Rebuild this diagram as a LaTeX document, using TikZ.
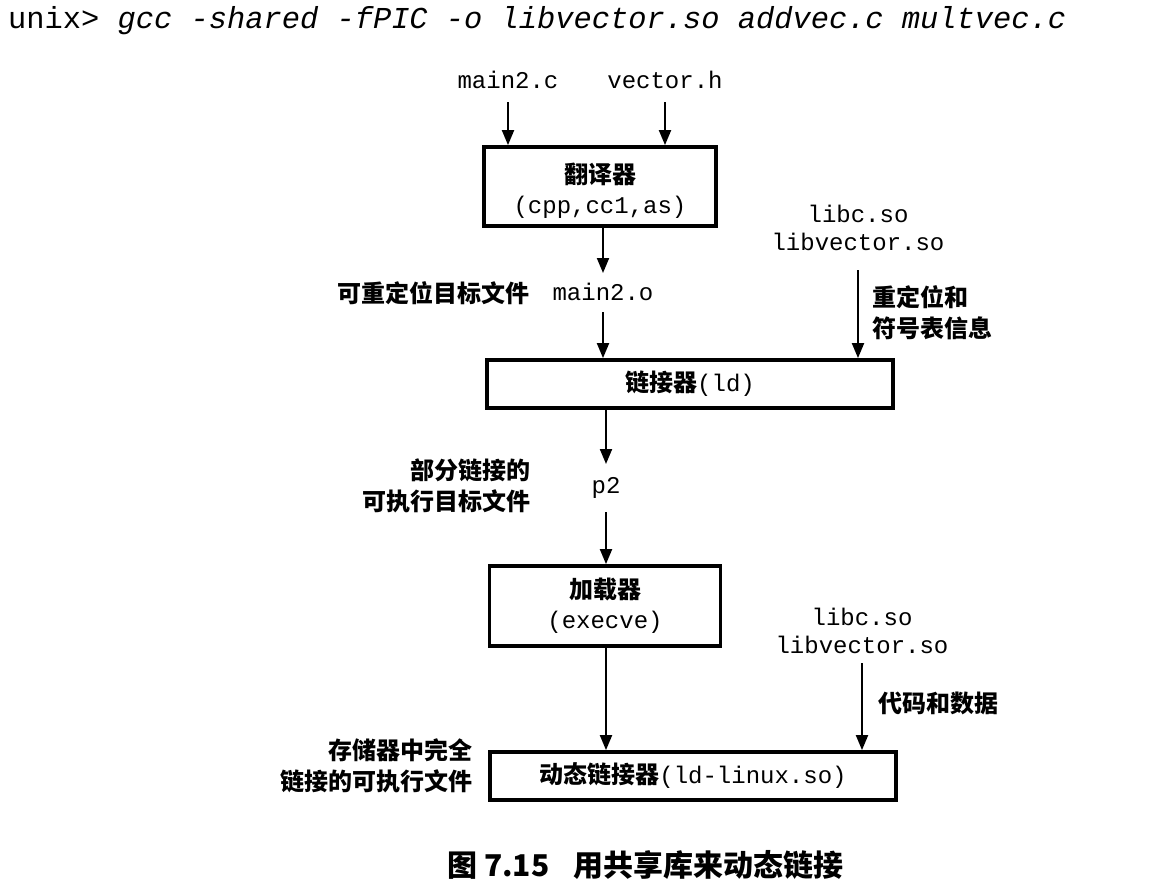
\documentclass[tikz,border=0pt]{standalone}
\usepackage{fontspec}
\setmonofont{Liberation Mono}
\newfontfamily\cjk{Noto Sans CJK SC}
\usetikzlibrary{arrows.meta}
\begin{document}
\begin{tikzpicture}[x=1pt,y=-1pt,
  box/.style={draw,line width=3.8pt,inner sep=0pt,align=center,font=\fontsize{24}{30}\selectfont},
  arr/.style={line width=2pt,-{Triangle[length=15pt,width=12pt]}},
  mono/.style={font=\fontsize{24}{28}\selectfont\ttfamily,inner sep=0pt,anchor=base},
  zh/.style={font=\fontsize{24}{31}\selectfont\cjk\bfseries,inner sep=0pt,anchor=base},
]
\useasboundingbox[fill=white] (0,0) rectangle (1156,886);

% command line
\node[font=\fontsize{30.4}{34}\selectfont\ttfamily,inner sep=0pt,anchor=base west] (cmd) at (8,28)
  {unix> \textit{gcc -shared -fPIC -o libvector.so addvec.c multvec.c}};

% inputs
\node[mono] (m2c) at (508,88) {main2.c};
\node[mono] (vh) at (665,88) {vector.h};

% translator
\node[box,minimum width=232pt,minimum height=79pt] (trans) at (600,186.5)
  {\rule{0pt}{29pt}{\cjk\bfseries 翻译器}\\{\ttfamily (cpp,cc1,as)}};

\node[mono] (m2o) at (603,300) {main2.o};
\node[zh,anchor=base east] (reloc) at (530,302) {可重定位目标文件};

\node[mono,align=center] (libs1) at (858,250) {libc.so\\libvector.so};
\node[zh,anchor=base west,align=left] (symt) at (872,337) {重定位和\\符号表信息};

% linker
\node[box,minimum width=406pt,minimum height=48pt] (ld) at (690,384)
  {{\cjk\bfseries 链接器}{\ttfamily (ld)}};

\node[mono] (p2) at (606,493) {p2};
\node[zh,anchor=base east,align=right] (part) at (531,510) {部分链接的\\可执行目标文件};

% loader
\node[box,minimum width=231pt,minimum height=80pt] (load) at (605,606)
  {{\cjk\bfseries 加载器}\\{\ttfamily (execve)}};

\node[mono,align=center] (libs2) at (862,653) {libc.so\\libvector.so};
\node[zh,anchor=base west] (code) at (878,712) {代码和数据};

% dynamic linker
\node[box,minimum width=406pt,minimum height=48pt] (dyn) at (693,776)
  {{\cjk\bfseries 动态链接器}{\ttfamily (ld-linux.so)}};
\node[zh,anchor=base east,align=right] (full) at (473,790) {存储器中完全\\链接的可执行文件};

% caption
\node[font=\fontsize{30}{34}\selectfont\cjk\bfseries,inner sep=0pt,anchor=base west] (cap) at (447,876)
  {图 7.15\hspace{24pt}用共享库来动态链接};

% arrows
\draw[arr] ([yshift=-14pt]m2c.base) -- (m2c.base |- trans.north);
\draw[arr] ([yshift=-14pt]vh.base) -- (vh.base |- trans.north);
\draw[arr] (trans.south -| m2o.base) -- ([yshift=27pt]m2o.base);
\draw[arr] ([yshift=-12pt]m2o.base) -- (m2o.base |- ld.north);
\draw[arr] ([yshift=-20pt]libs1.base) -- (libs1.base |- ld.north);
\draw[arr] (ld.south -| p2.base) -- ([yshift=29pt]p2.base);
\draw[arr] ([yshift=-19pt]p2.base) -- (p2.base |- load.north);
\draw[arr] (load.south -| p2.base) -- (p2.base |- dyn.north);
\draw[arr] ([yshift=-10pt]libs2.base) -- (libs2.base |- dyn.north);
\end{tikzpicture}
\end{document}
